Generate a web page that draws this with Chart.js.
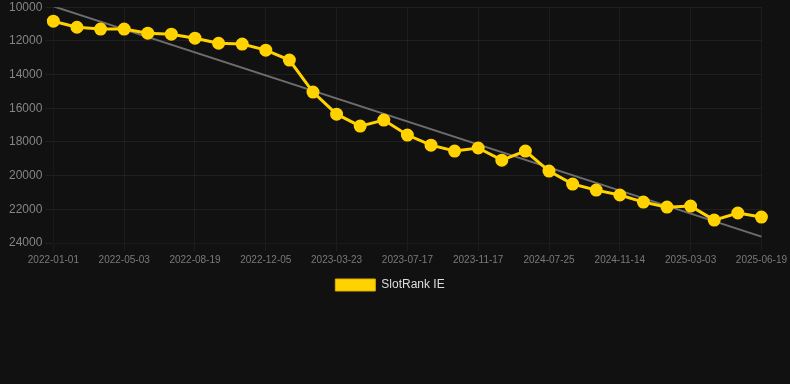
<!DOCTYPE html>
<html>
<head>
<meta charset="utf-8">
<script src="https://cdn.jsdelivr.net/npm/chart.js@4.4.0/dist/chart.umd.min.js"></script>
<style>
  html, body { margin: 0; padding: 0; background: #111111; }
  #wrap { width: 790px; height: 304px; margin-top: -3px; position: relative; }
</style>
</head>
<body>
<div id="wrap"><canvas id="chart"></canvas></div>
<script>
// dates of each rank reading
const dates = [
  "2022-01-01", "2022-02-10", "2022-03-22", "2022-05-03", "2022-06-08",
  "2022-07-14", "2022-08-19", "2022-09-24", "2022-10-30", "2022-12-05",
  "2023-01-10", "2023-02-15", "2023-03-23", "2023-05-01", "2023-06-08",
  "2023-07-17", "2023-08-27", "2023-10-07", "2023-11-17", "2024-02-08",
  "2024-05-01", "2024-07-25", "2024-08-31", "2024-10-07", "2024-11-14",
  "2024-12-20", "2025-01-25", "2025-03-03", "2025-04-08", "2025-05-14",
  "2025-06-19"
];

// SlotRank IE values (lower is better, axis is reversed)
const rankIE = [
  10830, 11190, 11300, 11300, 11540, 11600, 11840, 12140, 12190, 12550,
  13140, 15040, 16350, 17060, 16700, 17590, 18190, 18540, 18360, 19080,
  18540, 19730, 20500, 20860, 21150, 21570, 21870, 21810, 22640, 22220,
  22460
];

// trend line ends
const trendStart = 9950;
const trendEnd = 23620;

const yMin = 10000;
const yMax = 24000;
const yStep = 2000;

const gold = "#ffd200";

const ctx = document.getElementById("chart").getContext("2d");
new Chart(ctx, {
  type: "line",
  data: {
    labels: dates,
    datasets: [
      {
        label: "SlotRank IE",
        data: rankIE,
        borderColor: gold,
        backgroundColor: gold,
        borderWidth: 3,
        pointRadius: 5,
        pointHoverRadius: 6,
        pointBackgroundColor: gold,
        pointBorderColor: gold,
        tension: 0,
      },
      {
        label: "trend",
        data: [
          { x: dates[0], y: trendStart },
          { x: dates[dates.length - 1], y: trendEnd },
        ],
        borderColor: "rgba(120,120,120,0.9)",
        borderWidth: 2,
        pointRadius: 0,
        fill: false,
      },
    ],
  },
  options: {
    responsive: true,
    maintainAspectRatio: false,
    animation: false,
    layout: { padding: { left: 6, right: 16 } },
    scales: {
      x: {
        grid: { color: "rgba(255,255,255,0.05)" },
        ticks: {
          color: "#7a7a7a",
          font: { size: 10 },
          maxRotation: 0,
          autoSkip: true,
        },
      },
      y: {
        reverse: true,
        min: yMin,
        max: yMax,
        grid: { color: "rgba(255,255,255,0.06)" },
        ticks: {
          stepSize: yStep,
          color: "#858585",
          font: { size: 12 },
          callback: (v) => String(v),
        },
      },
    },
    plugins: {
      tooltip: { enabled: false },
      legend: {
        position: "bottom",
        labels: {
          color: "#dddddd",
          font: { size: 12 },
          boxWidth: 40,
          boxHeight: 12,
          filter: (item) => item.datasetIndex === 0,
          generateLabels: (chart) => {
            const items = Chart.defaults.plugins.legend.labels.generateLabels(chart);
            items.forEach((it) => { it.lineWidth = 1; it.strokeStyle = "#d9b000"; });
            return items;
          },
        },
      },
    },
  },
});
</script>
</body>
</html>
